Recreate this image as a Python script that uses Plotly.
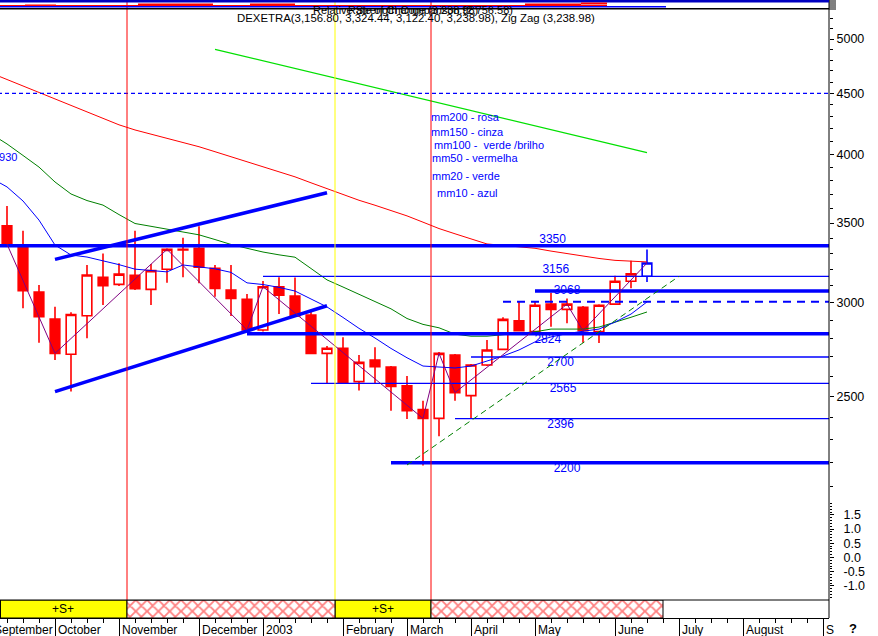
import pandas as pd
import plotly.graph_objects as go

# ---------------- data ----------------
# weekly bars (Fridays). The first date only feeds the moving averages (off-chart).
dates = pd.date_range("2002-09-06", "2003-06-20", freq="W-FRI")
candle_dates = dates[1:]

opens  = [3481, 3349, 3062, 2906, 2714, 2925, 3151, 3108, 3163, 3078, 3200, 3322, 3333, 3206, 3074, 3019, 2845, 3094, 3039, 2929,
          2719, 2746, 2574, 2684, 2648, 2553, 2439, 2397, 2710, 2505, 2658, 2740, 2896, 2836, 2991, 2961, 2973, 2836, 2991, 3127, 3156.80]
highs  = [3617, 3448, 3104, 2976, 2944, 3227, 3300, 3237, 3448, 3233, 3334, 3402, 3479, 3227, 3227, 3050, 3129, 3151, 3149, 2948,
          2758, 2805, 2710, 2751, 2653, 2602, 2481, 2726, 2715, 2664, 2791, 2916, 3009, 3009, 3058, 3024, 2980, 2991, 3161, 3253, 3324.44]
lows   = [3347, 2967, 2776, 2684, 2525, 2800, 2986, 3098, 3074, 2986, 3118, 3151, 3115, 3035, 2923, 2836, 2836, 2934, 2920, 2716,
          2566, 2563, 2530, 2566, 2433, 2394, 2188, 2316, 2481, 2397, 2653, 2737, 2839, 2834, 2863, 2882, 2776, 2774, 2986, 3084, 3122.40]
closes = [3360, 3070, 2919, 2719, 2932, 3165, 3100, 3170, 3082, 3192, 3326, 3326, 3213, 3084, 3025, 2845, 3094, 3043, 2923, 2719,
          2746, 2566, 2672, 2650, 2550, 2433, 2397, 2719, 2520, 2658, 2737, 2904, 2841, 2985, 2961, 2991, 2841, 2985, 3127, 3172, 3238.98]

mm50 = [4681, 4622, 4565, 4507, 4451, 4395, 4340, 4288, 4234, 4192, 4158, 4124, 4090, 4058, 4019, 3980, 3942, 3904, 3867, 3828,
        3784, 3741, 3698, 3658, 3623, 3588, 3549, 3506, 3463, 3428, 3394, 3361, 3352, 3343, 3333, 3315, 3298, 3281, 3268, 3256, 3249, 3246]
mm100 = [None] * 14 + [4901, 4865, 4829, 4793, 4758, 4723, 4688, 4653, 4619, 4585, 4551, 4517, 4484, 4451, 4418, 4385, 4353, 4321,
                       4289, 4257, 4226, 4194, 4163, 4133, 4102, 4072, 4042, 4012]
mm20 = [4160, 4080, 3990, 3901, 3790, 3703, 3656, 3624, 3558, 3497, 3478, 3459, 3439, 3421, 3390, 3358, 3333, 3309, 3291, 3276,
        3205, 3135, 3092, 3050, 3007, 2964, 2909, 2876, 2857, 2822, 2811, 2811, 2819, 2827, 2835, 2850, 2850, 2850, 2861, 2887, 2916, 2946]
mm10 = [3819, 3754, 3653, 3520, 3354, 3290, 3277, 3255, 3229, 3201, 3192, 3184, 3227, 3214, 3203, 3181, 3117, 3107, 3090, 3068,
        3021, 2975, 2915, 2854, 2801, 2745, 2696, 2653, 2648, 2643, 2653, 2679, 2705, 2737, 2780, 2807, 2825, 2838, 2850, 2889, 2934, 3004]

zigzag_pivots = [0, 3, 10, 15, 16, 26, 27, 28, 35, 36, 40]   # candle indices, joined at their closes

# support / resistance levels
levels      = [3350, 3156.8, 3068, 3005, 2824, 2700, 2565, 2396, 2200]
level_from  = ["2002-09-06", "2003-01-03", "2003-05-02", "2003-04-18", "2002-12-27",
               "2003-04-04", "2003-01-24", "2003-03-28", "2003-02-28"]
level_label = ["3350", "3156", "3068", "", "2824", "2700", "2565", "2396", "2200"]
level_4500 = 4500
label_3930 = "3930"

# trend lines (start date, start value, end date, end value)
channel_upper = (["2002-10-04", "2003-01-31"], [3262, 3712])
channel_lower = (["2002-10-04", "2003-01-31"], [2525, 2982])
green_trend   = (["2003-03-07", "2003-07-04"], [2190, 3157])

# signal strip
signal_bounds = ["2002-09-06", "2002-11-04 12:00", "2003-02-03 12:00", "2003-03-17 12:00", "2003-06-27"]
signal_kind   = ["+S+", "hatch", "+S+", "hatch"]

month_ticks  = ["2002-09-06", "2002-10-04", "2002-11-01", "2002-12-06", "2003-01-03", "2003-02-07", "2003-03-07",
                "2003-04-04", "2003-05-02", "2003-06-06", "2003-07-04", "2003-08-01", "2003-09-05"]
month_labels = ["September", "October", "November", "December", "2003", "February", "March",
                "April", "May", "June", "July", "August", "S"]

ma_notes = ["mm200 - rosa", "mm150 - cinza", "mm100 -  verde /brilho", "mm50 - vermelha", "mm20 - verde", "mm10 - azul"]
title_text = "DEXETRA(3,156.80, 3,324.44, 3,122.40, 3,238.98), Zig Zag (3,238.98)"

# ---------------- geometry helpers ----------------
W, H = 878, 636
MR, MB = 49, 18
PW, PH = W - MR, H - MB          # plot area 829 x 618


def px_x(px):
    return px / PW


def px_y(py):
    return (PH - py) / PH


week0 = pd.Timestamp("2002-09-13")
DAYS_PER_PX = 7 / 16


def wk(i):
    return week0 + pd.Timedelta(days=7 * i)


x_start = week0 + pd.Timedelta(days=-7 * DAYS_PER_PX)
x_end = week0 + pd.Timedelta(days=(PW - 7) * DAYS_PER_PX)
far_right = wk(53)

FONT = "Liberation Sans, Arial, sans-serif"
BLUE = "#0000FF"
RED = "#FF0000"

fig = go.Figure()

# ---------------- signal strip ----------------
b = [pd.Timestamp(s) for s in signal_bounds]
for kind in ["+S+", "hatch"]:
    xs, ws = [], []
    for k, sk in enumerate(signal_kind):
        if sk == kind:
            xs.append(b[k] + (b[k + 1] - b[k]) / 2)
            ws.append((b[k + 1] - b[k]).total_seconds() * 1000)
    if kind == "+S+":
        marker = dict(color="#FFFF00", line=dict(color="black", width=1))
    else:
        marker = dict(color="white", line=dict(color="black", width=1),
                      pattern=dict(shape="x", fgcolor=RED, bgcolor="white", size=8, solidity=0.4))
    fig.add_trace(go.Bar(x=xs, y=[1] * len(xs), base=0, width=ws, marker=marker,
                         yaxis="y3", showlegend=False, hoverinfo="skip"))

# dummy on indicator axis
fig.add_trace(go.Scatter(x=[dates[0]], y=[0], mode="lines", yaxis="y2", showlegend=False, hoverinfo="skip"))

# ---------------- level label texts (drawn under the lines) ----------------
label_week = [34.1, 34.3, 35.0, None, 33.8, 34.6, 34.75, 34.6, 35.0]
label_pos = ["top center", "top center", "middle center", None, "bottom center",
             "bottom center", "bottom center", "bottom center", "bottom center"]
for lv, lab, lw_, lp in zip(levels, level_label, label_week, label_pos):
    if not lab:
        continue
    fig.add_trace(go.Scatter(x=[wk(lw_)], y=[lv], mode="text", text=[lab], textposition=lp,
                             textfont=dict(color=BLUE, size=12, family=FONT), cliponaxis=False,
                             showlegend=False, hoverinfo="skip"))

# ---------------- moving averages ----------------
fig.add_trace(go.Scatter(x=dates, y=mm50, mode="lines", line=dict(color=RED, width=1), showlegend=False, hoverinfo="skip"))
fig.add_trace(go.Scatter(x=dates, y=mm100, mode="lines", line=dict(color="#00E000", width=1.2), showlegend=False, hoverinfo="skip"))
fig.add_trace(go.Scatter(x=dates, y=mm20, mode="lines", line=dict(color="#008000", width=1), showlegend=False, hoverinfo="skip"))
fig.add_trace(go.Scatter(x=dates, y=mm10, mode="lines", line=dict(color=BLUE, width=1), showlegend=False, hoverinfo="skip"))

# ---------------- horizontal levels ----------------
level_w = [3.5, 1.3, 3.5, 1.8, 3.5, 1.3, 1.3, 1.3, 3.5]
level_dash = ["solid", "solid", "solid", "8px,6px", "solid", "solid", "solid", "solid", "solid"]
for lv, lf, w_, d_ in zip(levels, level_from, level_w, level_dash):
    fig.add_trace(go.Scatter(x=[pd.Timestamp(lf), far_right], y=[lv, lv], mode="lines",
                             line=dict(color=BLUE, width=w_, dash=d_), showlegend=False, hoverinfo="skip"))
fig.add_trace(go.Scatter(x=[dates[0], far_right], y=[level_4500, level_4500], mode="lines",
                         line=dict(color=BLUE, width=1.3, dash="4px,3px"), showlegend=False, hoverinfo="skip"))

# ---------------- trend lines ----------------
for (tx, ty) in [channel_upper, channel_lower]:
    fig.add_trace(go.Scatter(x=tx, y=ty, mode="lines", line=dict(color=BLUE, width=3.5),
                             showlegend=False, hoverinfo="skip"))
fig.add_trace(go.Scatter(x=green_trend[0], y=green_trend[1], mode="lines",
                         line=dict(color="#008000", width=1, dash="6px,4px"), showlegend=False, hoverinfo="skip"))

# ---------------- candles ----------------
fig.add_trace(go.Candlestick(x=candle_dates[:-1], open=opens[:-1], high=highs[:-1], low=lows[:-1], close=closes[:-1],
                             increasing=dict(line=dict(color=RED, width=1.6), fillcolor="white"),
                             decreasing=dict(line=dict(color=RED, width=1.6), fillcolor=RED),
                             showlegend=False, hoverinfo="skip"))
fig.add_trace(go.Candlestick(x=candle_dates[-1:], open=opens[-1:], high=highs[-1:], low=lows[-1:], close=closes[-1:],
                             increasing=dict(line=dict(color=BLUE, width=1.6), fillcolor="white"),
                             decreasing=dict(line=dict(color=BLUE, width=1.6), fillcolor=BLUE),
                             showlegend=False, hoverinfo="skip"))

# ---------------- zigzag ----------------
fig.add_trace(go.Scatter(x=[candle_dates[k] for k in zigzag_pivots], y=[closes[k] for k in zigzag_pivots],
                         mode="lines", line=dict(color="#800080", width=1), showlegend=False, hoverinfo="skip"))

# ---------------- shapes ----------------
shapes = []
vline_colors = [RED, "#FFFF00", RED]
for k, c in enumerate(vline_colors):
    xb = pd.Timestamp(signal_bounds[k + 1])
    shapes.append(dict(type="line", xref="x", yref="paper", x0=xb, x1=xb, y0=px_y(600), y1=1,
                       line=dict(color=c, width=1)))
# strip top border and left edge
shapes.append(dict(type="line", xref="paper", yref="paper", x0=0, x1=1, y0=px_y(600), y1=px_y(600),
                   line=dict(color="black", width=1)))
shapes.append(dict(type="line", xref="paper", yref="paper", x0=px_x(0.5), x1=px_x(0.5), y0=0, y1=px_y(600),
                   line=dict(color="black", width=1)))
# right axis line
shapes.append(dict(type="line", xref="paper", yref="paper", x0=1, x1=1, y0=0, y1=1, line=dict(color="black", width=1)))
# compressed panels at the top
shapes.append(dict(type="line", xref="paper", yref="paper", x0=0, x1=1, y0=px_y(1.2), y1=px_y(1.2),
                   line=dict(color="#0000C0", width=2.5)))
shapes.append(dict(type="line", xref="paper", yref="paper", x0=0, x1=px_x(607), y0=px_y(5.5), y1=px_y(5.5),
                   line=dict(color=RED, width=1)))
for (a, bb, yy) in [(25, 56, 5.5), (138, 213, 4.5), (250, 295, 4.5), (525, 581, 4.5), (581, 607, 3.5)]:
    shapes.append(dict(type="line", xref="paper", yref="paper", x0=px_x(a), x1=px_x(bb), y0=px_y(yy), y1=px_y(yy),
                       line=dict(color=RED, width=2)))
shapes.append(dict(type="line", xref="paper", yref="paper", x0=0, x1=px_x(666), y0=px_y(6.8), y1=px_y(6.8),
                   line=dict(color=BLUE, width=1.5)))
shapes.append(dict(type="line", xref="paper", yref="paper", x0=0, x1=1, y0=px_y(8.7), y1=px_y(8.7),
                   line=dict(color="black", width=1.5)))
for yy in [1, 3, 5, 7, 9]:
    shapes.append(dict(type="line", xref="paper", yref="paper", x0=1, x1=px_x(PW + 7), y0=px_y(yy), y1=px_y(yy),
                       line=dict(color="black", width=1)))

# ---------------- annotations ----------------
ann = []
ann.append(dict(xref="paper", yref="paper", x=px_x(413), y=px_y(10), text="Relative Strength Comparison (2,756.58)",
                showarrow=False, font=dict(family=FONT, size=11, color="black"), xanchor="center", yanchor="middle"))
ann.append(dict(xref="paper", yref="paper", x=px_x(413), y=px_y(10), text="Rate of Change (3,238.98)",
                showarrow=False, font=dict(family=FONT, size=11, color="black"), xanchor="center", yanchor="middle"))
ann.append(dict(xref="paper", yref="paper", x=px_x(416), y=px_y(17.5), text=title_text,
                showarrow=False, font=dict(family=FONT, size=11.4, color="black"), xanchor="center", yanchor="middle"))
note_pos = [(429, 117), (429, 132), (432, 145), (430, 158), (430, 176), (435, 193)]
for txt, (nx, ny) in zip(ma_notes, note_pos):
    ann.append(dict(xref="paper", yref="paper", x=px_x(nx), y=px_y(ny), text=txt, showarrow=False,
                    font=dict(family=FONT, size=11, color=BLUE), xanchor="left", yanchor="middle"))
ann.append(dict(xref="paper", yref="paper", x=px_x(19), y=px_y(157), text=label_3930, showarrow=False,
                font=dict(family=FONT, size=11, color=BLUE), xanchor="right", yanchor="middle"))
for txt, cx in zip(["+S+", "+S+"], [63, 383]):
    ann.append(dict(xref="paper", yref="paper", x=px_x(cx), y=px_y(608.5), text=txt, showarrow=False,
                    font=dict(family=FONT, size=12, color="black"), xanchor="center", yanchor="middle"))
for d, lab in zip(month_ticks, month_labels):
    i = (pd.Timestamp(d) - week0).days / 7
    ann.append(dict(xref="paper", yref="paper", x=px_x(7 + 16 * i + 1), y=px_y(630), text=lab, showarrow=False,
                    font=dict(family=FONT, size=12, color="black"), xanchor="left", yanchor="middle"))
ann.append(dict(xref="paper", yref="paper", x=px_x(853), y=px_y(628), text="<b>?</b>", showarrow=False,
                font=dict(family=FONT, size=13, color="black"), xanchor="center", yanchor="middle"))

main_major = [2500, 3000, 3500, 4000, 4500, 5000]
main_minor = [v for v in range(2100, 5300, 100) if v not in main_major]
ind_major = [-1.0, -0.5, 0.0, 0.5, 1.0, 1.5]

fig.update_layout(
    width=W, height=H,
    margin=dict(l=0, r=MR, t=0, b=MB),
    paper_bgcolor="white", plot_bgcolor="white",
    showlegend=False, barmode="overlay", boxgap=0.14,
    font=dict(family=FONT, size=12, color="black"),
    shapes=shapes, annotations=ann,
    xaxis=dict(type="date", range=[x_start, x_end], anchor="y3", showgrid=False, zeroline=False,
               rangeslider=dict(visible=False), showticklabels=False,
               tickmode="array", tickvals=month_ticks, ticks="outside", ticklen=18, tickcolor="black", tickwidth=1,
               minor=dict(tickmode="array", tickvals=list(pd.date_range("2002-09-06", periods=54, freq="7D")),
                          ticks="outside", ticklen=4, tickcolor="black", tickwidth=1),
               showline=True, linecolor="black", linewidth=1),
    yaxis=dict(type="log", domain=[px_y(500), px_y(10)], range=[3.31100, 3.72338], side="right",
               showgrid=False, zeroline=False, tickmode="array", tickvals=main_major,
               ticktext=[str(v) for v in main_major], ticks="outside", ticklen=4, tickcolor="black",
               minor=dict(tickmode="array", tickvals=main_minor, ticks="outside", ticklen=3, tickcolor="black"),
               tickfont=dict(size=12.5, family=FONT, color="black"), fixedrange=True),
    yaxis2=dict(domain=[px_y(598), px_y(503)], range=[-1.426, 1.919], side="right", anchor="x",
                showgrid=False, zeroline=False, tickmode="array", tickvals=ind_major,
                ticktext=[f"{v:.1f}" for v in ind_major], ticks="outside", ticklen=4, tickcolor="black",
                minor=dict(dtick=0.1, ticks="outside", ticklen=2, tickcolor="black"),
                tickfont=dict(size=12.5, family=FONT, color="black"), ticklabelstandoff=7),
    yaxis3=dict(domain=[0, px_y(600)], range=[0, 1], visible=False, anchor="x"),
)

fig.write_html("out.html", config={"displayModeBar": False},
               post_script="document.body.style.margin='0px';document.body.style.padding='0px';"
                           "document.body.style.overflow='hidden';")
